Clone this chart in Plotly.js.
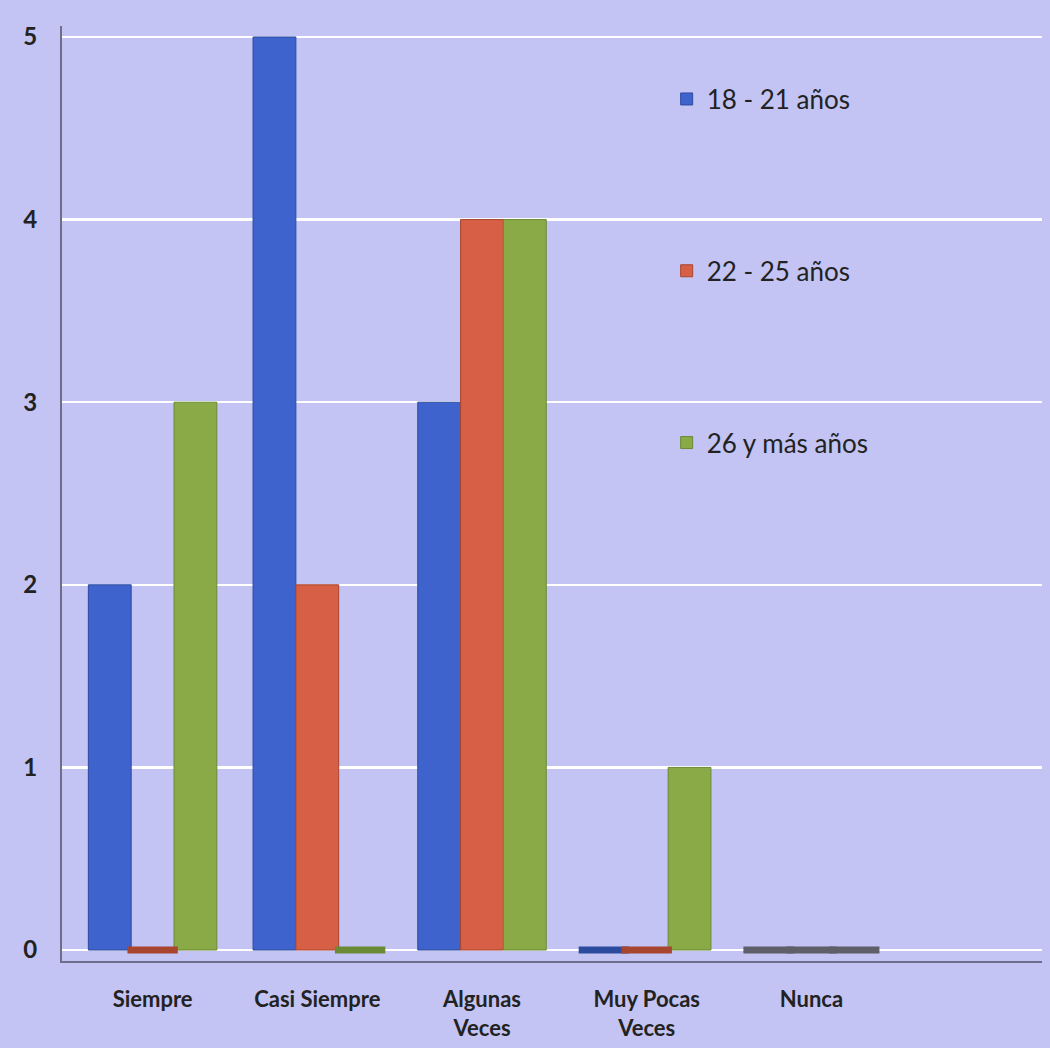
<!DOCTYPE html>
<html>
<head>
<meta charset="utf-8">
<script src="https://cdn.plot.ly/plotly-3.0.1.min.js"></script>
<style>html,body{margin:0;padding:0;background:#c3c4f3;}#chart{width:1050px;height:1048px;}</style>
</head>
<body>
<div id="chart"></div>
<script>
// Data
var categories = ["Siempre", "Casi Siempre", "Algunas<br>Veces", "Muy Pocas<br>Veces", "Nunca"];
var seriesNames = ["18 - 21 años", "22 - 25 años", "26 y más años"];
var age18to21 = [2, 5, 3, 0, 0];
var age22to25 = [0, 2, 4, 0, 0];
var age26plus = [3, 0, 4, 1, 0];
var yTicks = [0, 1, 2, 3, 4, 5];

var seriesValues = [age18to21, age22to25, age26plus];
var colors = ["#3f63cc", "#d65f46", "#8aaa48"];
var lineColors = ["#2c4a9e", "#a8452f", "#6b8a35"];
var emptyColor = "#5f5f6a";

var traces = [];
seriesValues.forEach(function (vals, i) {
  traces.push({
    type: "bar",
    name: seriesNames[i],
    x: categories,
    y: vals,
    offsetgroup: String(i),
    legendgroup: "g" + i,
    marker: {color: colors[i], line: {color: lineColors[i], width: 1}},
    hoverinfo: "x+y+name"
  });
});
// flat discs for zero-valued bars
seriesValues.forEach(function (vals, i) {
  var xs = [], ys = [], cs = [];
  vals.forEach(function (v, j) {
    if (v === 0) {
      xs.push(categories[j]);
      ys.push(v);
      cs.push(j === categories.length - 1 ? emptyColor : lineColors[i]);
    }
  });
  traces.push({
    type: "scatter",
    mode: "markers",
    x: xs,
    y: ys,
    offsetgroup: String(i),
    legendgroup: "g" + i,
    showlegend: false,
    hoverinfo: "skip",
    marker: {symbol: "line-ew-open", size: 36, color: cs, line: {color: cs, width: 7}},
    cliponaxis: false
  });
});

var layout = {
  width: 1050,
  height: 1048,
  paper_bgcolor: "#c3c4f3",
  plot_bgcolor: "#c3c4f3",
  margin: {l: 62, r: 8, t: 26, b: 87},
  barmode: "group",
  scattermode: "group",
  bargap: 0.22,
  bargroupgap: 0,
  showlegend: true,
  legend: {
    x: 0.617, y: 0.947, xanchor: "left", yanchor: "top",
    bgcolor: "rgba(0,0,0,0)",
    font: {family: "Lato, 'Open Sans', sans-serif", size: 26, color: "#222222"},
    traceorder: "grouped",
    tracegroupgap: 135,
    itemwidth: 30
  },
  xaxis: {
    type: "category",
    range: [-0.55, 5.4],
    showgrid: false,
    zeroline: false,
    showline: true,
    linecolor: "#6d6f8a",
    linewidth: 2,
    ticks: "",
    tickfont: {family: "Lato, 'Open Sans', sans-serif", size: 22, color: "#222222", weight: "bold"},
    ticklabelstandoff: 18,
    fixedrange: true
  },
  yaxis: {
    range: [-0.06, 5.06],
    tickvals: yTicks,
    ticktext: yTicks.map(String),
    showgrid: true,
    gridcolor: "#ffffff",
    gridwidth: 2.5,
    zeroline: false,
    showline: true,
    linecolor: "#6d6f8a",
    linewidth: 2,
    ticks: "",
    tickfont: {family: "Lato, 'Open Sans', sans-serif", size: 24, color: "#222222", weight: "bold"},
    ticklabelstandoff: 18,
    fixedrange: true
  }
};

Plotly.newPlot("chart", traces, layout, {displayModeBar: false, staticPlot: true});
</script>
</body>
</html>
